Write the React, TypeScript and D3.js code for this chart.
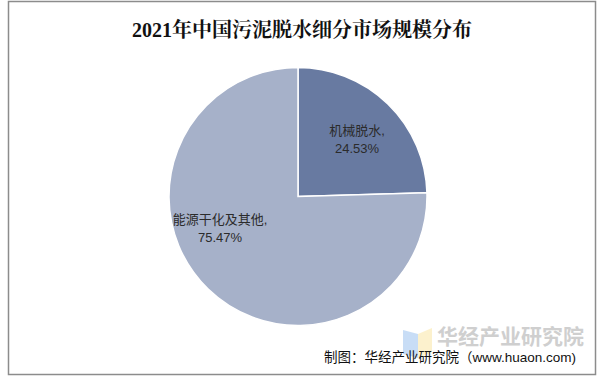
import React from "react";
import * as d3 from "d3";

const categories = ["机械脱水", "能源干化及其他"];
const shares = [24.53, 75.47];
const colors = ["#687aa1", "#a6b1c9"];

const W = 604;
const H = 381;

export default function App() {
  const cx = 298;
  const cy = 196.5;
  const r = 129;
  const pie = d3.pie<number>().sort(null).value((d) => d);
  const arcs = pie(shares);
  const arcGen = d3.arc<d3.PieArcDatum<number>>().innerRadius(0).outerRadius(r);
  const labelPos = [
    [59, -57],
    [-78, 32],
  ];
  const font = "'Liberation Sans', Arial, 'Noto Sans CJK SC', sans-serif";
  return (
    <svg
      width={W}
      height={H}
      style={{ position: "absolute", left: 0, top: 0, background: "#fff" }}
    >
      <rect x={8.5} y={1.5} width={587} height={373} fill="#fff" stroke="#8c8c8c" strokeWidth={1.5} />
      <text
        x={302}
        y={37}
        textAnchor="middle"
        fontSize={20}
        fontWeight="bold"
        fill="#111"
        fontFamily="'Liberation Serif', 'Noto Serif CJK SC', 'Noto Sans CJK SC', serif"
      >
        2021年中国污泥脱水细分市场规模分布
      </text>
      <g transform={`translate(${cx},${cy})`}>
        {arcs.map((a, i) => (
          <path key={i} d={arcGen(a) || ""} fill={colors[i]} stroke="#fff" strokeWidth={1.5} />
        ))}
        {arcs.map((a, i) => (
          <text
            key={"l" + i}
            textAnchor="middle"
            fontSize={13}
            fill="#2b2b2b"
            fontFamily={font}
          >
            <tspan x={labelPos[i][0]} y={labelPos[i][1] - 5}>
              {categories[i]},
            </tspan>
            <tspan x={labelPos[i][0]} y={labelPos[i][1] + 13}>
              {shares[i].toFixed(2)}%
            </tspan>
          </text>
        ))}
      </g>
      <g opacity={0.55}>
        <polygon points="403,330 418,334 418,358 403,354" fill="#9cc3f0" />
        <polygon points="418,334 432,328 432,352 418,358" fill="#fbe7a6" />
      </g>
      <text x={437} y={344} fontSize={21} fontWeight="bold" fill="#cfcfcf" fontFamily="'Noto Sans CJK SC', sans-serif">
        华经产业研究院
      </text>
      <text x={324} y={362} fontSize={13.5} fill="#111" fontFamily={font}>
        制图：华经产业研究院（www.huaon.com)
      </text>
    </svg>
  );
}
